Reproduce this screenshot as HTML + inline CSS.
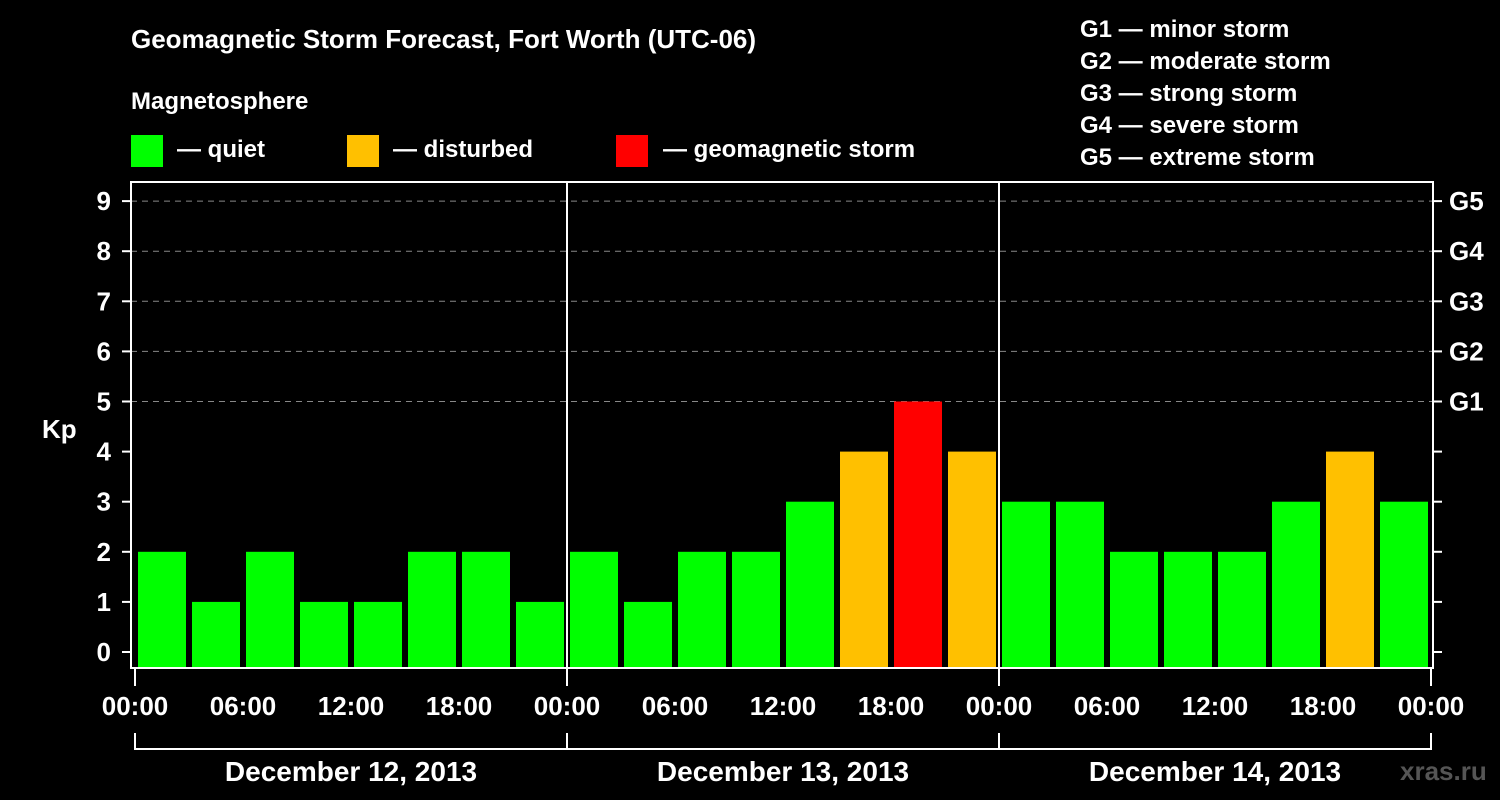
<!DOCTYPE html>
<html><head><meta charset="utf-8"><style>
body{margin:0;background:#000;width:1500px;height:800px;overflow:hidden}
svg{display:block;font-family:"Liberation Sans",sans-serif;font-weight:bold;fill:#fff}
</style></head><body>
<svg id="c" width="1500" height="800">
<text x="131" y="48" font-size="26">Geomagnetic Storm Forecast, Fort Worth (UTC-06)</text>
<text x="131" y="109" font-size="24">Magnetosphere</text>
<g><rect x="131" y="135" width="32" height="32" fill="#00ff00"/><text x="177" y="157" font-size="24">— quiet</text></g>
<g><rect x="347" y="135" width="32" height="32" fill="#ffc000"/><text x="393" y="157" font-size="24">— disturbed</text></g>
<g><rect x="616" y="135" width="32" height="32" fill="#ff0000"/><text x="663" y="157" font-size="24">— geomagnetic storm</text></g>
<g font-size="24">
<text x="1080" y="37">G1 — minor storm</text><text x="1080" y="69">G2 — moderate storm</text><text x="1080" y="101">G3 — strong storm</text><text x="1080" y="133">G4 — severe storm</text><text x="1080" y="165">G5 — extreme storm</text></g>
<text x="42" y="438" font-size="26">Kp</text>
<text x="1400" y="780" font-size="26" fill="#555" style="fill:#555">xras.ru</text>
<g id="grid"></g><g id="bars"></g><g id="axes"></g>
</svg>
<script>
const kpValues=[2,1,2,1,1,2,2,1, 2,1,2,2,3,4,5,4, 3,3,2,2,2,3,4,3];
const dayLabels=["December 12, 2013","December 13, 2013","December 14, 2013"];
const timeLabels=["00:00","06:00","12:00","18:00"];
const gLabels=["G1","G2","G3","G4","G5"];
const NS="http://www.w3.org/2000/svg";
const L=131,R=1433,T=182,B=668,X0=135,HOUR=18;
const y=v=>652-v*50.1;
const x=h=>X0+h*HOUR;
function mk(tag,attrs,parent,txt){const e=document.createElementNS(NS,tag);for(const k in attrs)e.setAttribute(k,attrs[k]);if(txt!==undefined)e.textContent=txt;document.getElementById(parent).appendChild(e);return e;}
for(let v=5;v<=9;v++){const e=mk('line',{x1:L,x2:R,y1:y(v),y2:y(v),stroke:'#888','stroke-dasharray':'6,5','stroke-width':1},'grid');

}
kpValues.forEach((v,i)=>{const col=v>=5?'#ff0000':v>=4?'#ffc000':'#00ff00';
const e=mk('rect',{x:x(i*3)+3,y:y(v),width:HOUR*3-6,height:B-y(v),fill:col},'bars');

});
const fr=mk('rect',{x:L,y:T,width:R-L,height:B-T,fill:'none',stroke:'#fff','stroke-width':2},'axes');


for(let v=0;v<=9;v++){
mk('line',{x1:122,x2:L,y1:y(v),y2:y(v),stroke:'#fff','stroke-width':2},'axes');
mk('line',{x1:R,x2:1442,y1:y(v),y2:y(v),stroke:'#fff','stroke-width':2},'axes');
const t=mk('text',{x:111,y:y(v)+9,'font-size':26,'text-anchor':'end'},'axes',v);

}
gLabels.forEach((g,i)=>{const t=mk('text',{x:1449,y:y(i+5)+9,'font-size':26},'axes',g);

});
for(let d=1;d<3;d++){const e=mk('line',{x1:x(d*24),x2:x(d*24),y1:T,y2:B,stroke:'#fff','stroke-width':2},'axes');

}
for(let h=0;h<=72;h+=6){const lab=timeLabels[(h/6)%4];
const t=mk('text',{x:x(h),y:715,'font-size':26,'text-anchor':'middle'},'axes',lab);


if(h%24===0){mk('line',{x1:x(h),x2:x(h),y1:B,y2:686,stroke:'#fff','stroke-width':2},'axes');
mk('line',{x1:x(h),x2:x(h),y1:733,y2:750,stroke:'#fff','stroke-width':2},'axes');}}
mk('line',{x1:x(0),x2:x(72),y1:749,y2:749,stroke:'#fff','stroke-width':2},'axes');
dayLabels.forEach((d,i)=>{const t=mk('text',{x:x(i*24+12),y:781,'font-size':28,'text-anchor':'middle'},'axes',d);

});
</script>
</body></html>
